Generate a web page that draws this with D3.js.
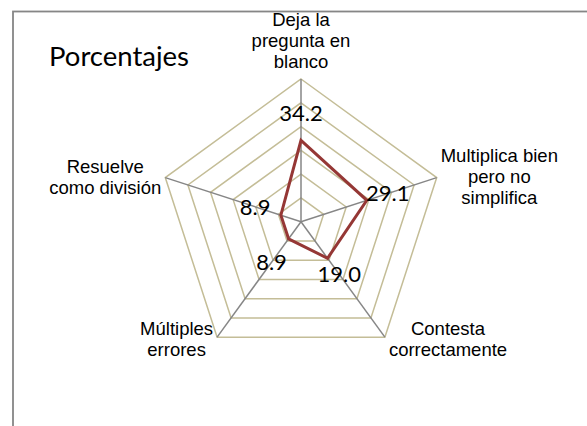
<!DOCTYPE html>
<html><head><meta charset="utf-8">
<script src="https://cdn.jsdelivr.net/npm/d3@7"></script>
<style>html,body{margin:0;padding:0;background:#fff;}svg{display:block;}</style>
</head><body>
<script>
// ---- data ----
const categories = [
  ["Deja la", "pregunta en", "blanco"],
  ["Multiplica bien", "pero no", "simplifica"],
  ["Contesta", "correctamente"],
  ["Múltiples", "errores"],
  ["Resuelve", "como división"]
];
const values = [34.2, 29.1, 19.0, 8.9, 8.9];
const valueLabels = ["34.2", "29.1", "19.0", "8.9", "8.9"];
const ringTicks = [10, 20, 30, 40, 50, 60];
const chartTitle = "Porcentajes";

// ---- layout ----
const W = 587, H = 426;
const cx = 301, cy = 221.7, R = 142.7;
const labelDist = [27, 22, 20, 29, 27];

const svg = d3.select("body").append("svg").attr("width", W).attr("height", H);

svg.append("rect").attr("x", 13).attr("y", 11.5).attr("width", 700).attr("height", 600)
  .attr("fill", "#fff").attr("stroke", "#868686").attr("stroke-width", 1.8);

const n = categories.length;
const angle = d3.scaleLinear().domain([0, n]).range([0, 2 * Math.PI]);
const r = d3.scaleLinear().domain([0, 60]).range([0, R]);
const pt = (i, v) => [cx + r(v) * Math.sin(angle(i)), cy - r(v) * Math.cos(angle(i))];

const g = svg.append("g");
// rings
const ringLine = d3.line();
ringTicks.forEach(t => {
  const pts = d3.range(n).map(i => pt(i, t));
  g.append("path").attr("d", ringLine(pts) + "Z").attr("fill", "none")
    .attr("stroke", "#C4BD97").attr("stroke-width", 1.5);
});
// spokes
d3.range(n).forEach(i => {
  const [x, y] = pt(i, 60);
  g.append("line").attr("x1", cx).attr("y1", cy).attr("x2", x).attr("y2", y)
    .attr("stroke", "#868686").attr("stroke-width", 1.5);
});
// series
const dataPts = values.map((v, i) => pt(i, v));
g.append("path").attr("d", d3.line()(dataPts) + "Z").attr("fill", "none")
  .attr("stroke", "#953735").attr("stroke-width", 3).attr("stroke-linejoin", "miter");

// data labels
const dlSize = 22;
values.forEach((v, i) => {
  const a = angle(i), ux = Math.sin(a), uy = -Math.cos(a);
  const [x, y] = pt(i, v);
  const lx = x + ux * labelDist[i], ly = y + uy * labelDist[i];
  svg.append("text").attr("x", lx).attr("y", ly + 0.36 * dlSize)
    .attr("text-anchor", "middle").attr("font-family", "Lato, 'Open Sans', sans-serif")
    .attr("font-size", dlSize).attr("fill", "#000").text(valueLabels[i]);
});

// category labels
const cSize = 18.5, lh = 21, gap = 4;
categories.forEach((lines, i) => {
  const a = angle(i), ux = Math.sin(a), uy = -Math.cos(a);
  const [vx, vy] = pt(i, 60);
  const t = svg.append("text").attr("font-family", "'Liberation Sans', Arial, sans-serif")
    .attr("font-size", cSize).attr("fill", "#000").attr("text-anchor", "middle");
  const spans = lines.map(l => t.append("tspan").text(l));
  const wMax = d3.max(spans, s => s.node().getComputedTextLength());
  let centerX, firstBase;
  if (Math.abs(ux) < 0.1) { centerX = vx; firstBase = vy - 11 - (lines.length - 1) * lh; }
  else {
    centerX = ux > 0 ? vx + gap + wMax / 2 : vx - gap - wMax / 2;
    if (uy < 0) firstBase = vy - (lines.length - 1) * lh / 2 + 5.5;
    else firstBase = vy - 2;
  }
  spans.forEach((s, k) => s.attr("x", centerX).attr("y", firstBase + k * lh));
});

// title
svg.append("text").attr("x", 49).attr("y", 65.5)
  .attr("font-family", "Lato, 'Open Sans', sans-serif").attr("font-size", 27.5)
  .attr("fill", "#000").text(chartTitle);
</script>
</body></html>
